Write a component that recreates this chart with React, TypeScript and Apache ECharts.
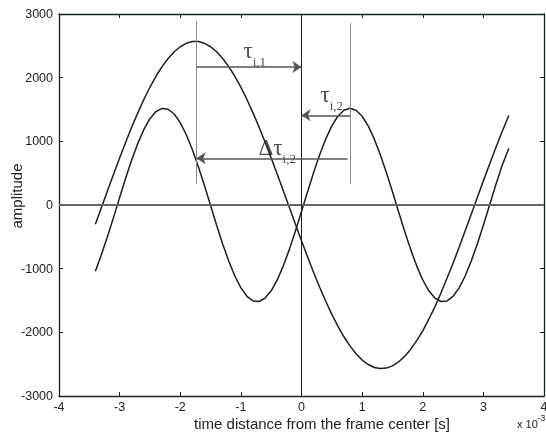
import React, { useEffect, useRef } from "react";
import * as echarts from "echarts";

// time axis values (x 10^-3 s)
const xs = [
  -3.4, -3.3, -3.2, -3.1, -3.0, -2.9, -2.8, -2.7, -2.6, -2.5, -2.4, -2.3, -2.2, -2.1, -2.0, -1.9, -1.8, -1.7,
  -1.6, -1.5, -1.4, -1.3, -1.2, -1.1, -1.0, -0.9, -0.8, -0.7, -0.6, -0.5, -0.4, -0.3, -0.2, -0.1, 0,
  0.1, 0.2, 0.3, 0.4, 0.5, 0.6, 0.7, 0.8, 0.9, 1.0, 1.1, 1.2, 1.3, 1.4, 1.5, 1.6, 1.7, 1.8, 1.9, 2.0,
  2.1, 2.2, 2.3, 2.4, 2.5, 2.6, 2.7, 2.8, 2.9, 3.0, 3.1, 3.2, 3.3, 3.42,
];
// large, slow wave
const curveA = [
  -302, -39, 223, 484, 739, 987, 1224, 1447, 1658, 1850, 2022, 2174, 2302, 2407, 2486, 2540, 2567, 2567,
  2540, 2486, 2407, 2302, 2174, 2022, 1850, 1658, 1447, 1224, 987, 739, 484, 223, -39, -302, -561,
  -814, -1059, -1292, -1512, -1717, -1901, -2070, -2213, -2336, -2436, -2505, -2552, -2569, -2562, -2527, -2465, -2378, -2268, -2131, -1977,
  -1794, -1601, -1382, -1150, -914, -664, -406, -145, 118, 379, 637, 888, 1130, 1405,
];
// smaller, fast wave
const curveB = [
  -1040, -778, -496, -194, 117, 423, 710, 968, 1187, 1355, 1467, 1517, 1504, 1429, 1294, 1104, 869, 598,
  301, -8, -317, -611, -881, -1115, -1302, -1434, -1507, -1516, -1462, -1348, -1177, -956, -697, -407, -101,
  209, 510, 790, 1038, 1242, 1394, 1488, 1520, 1488, 1394, 1242, 1038, 790, 510, 209, -101, -407, -697, -956, -1177,
  -1348, -1462, -1516, -1507, -1434, -1302, -1115, -881, -611, -317, -8, 301, 598, 890,
];

const xRange = [-4, 4];
const yRange = [-3000, 3000];
const xStep = 1;
const yStep = 1000;

// annotation geometry (data coordinates)
const guideLeft = [[-1.73, 2890], [-1.73, 330]];
const guideRight = [[0.81, 2858], [0.81, 330]];
const arrowTau1 = [[-1.73, 2167], [0, 2167]];
const arrowTau2 = [[0.8, 1409], [0, 1409]];
const arrowDelta = [[0.76, 733], [-1.73, 733]];
const labelPoints = [[-0.77, 2372], [0.5, 1690], [-0.4, 860]];
const labelTexts = ["{t|τ}{s|i,1}", "{t|τ}{s|i,2}", "{t|Δτ}{s|i,2}"];

const xTitle = "time distance from the frame center [s]";
const yTitle = "amplitude";
const xScaleNote = "{a|x 10}{b|-3}";

const ink = "#142222";
const sans = "'Liberation Sans', Arial, sans-serif";
const serif = "'Liberation Serif', 'Times New Roman', serif";

export default function App() {
  const ref = useRef<HTMLDivElement>(null);
  useEffect(() => {
    if (!ref.current) return;
    const chart = echarts.init(ref.current, null, { renderer: "svg" });
    const pair = (p: number[][]) => [{ coord: p[0] }, { coord: p[1] }];
    const guideStyle = { color: "#8a8a8a", width: 1, type: "solid" as const };
    const axisCommon = {
      type: "value" as const,
      splitLine: { show: false },
      axisLine: { show: true, onZero: false, lineStyle: { color: ink, width: 1.3 } },
      axisTick: { show: true, inside: true, length: 4, lineStyle: { color: ink, width: 1 } },
    };
    const plain = (v: number) => String(v);
    chart.setOption({
      animation: false,
      grid: { left: 59, right: 2, top: 14, bottom: 39, outerBoundsMode: "none" },
      xAxis: [
        {
          ...axisCommon,
          position: "bottom",
          min: xRange[0],
          max: xRange[1],
          interval: xStep,
          axisLabel: { margin: 4, fontSize: 12.5, color: "#222", fontFamily: sans, formatter: plain, showMaxLabel: true, showMinLabel: true },
        },
        {
          ...axisCommon,
          position: "top",
          min: xRange[0],
          max: xRange[1],
          interval: xStep,
          axisLabel: { show: false },
        },
      ],
      yAxis: [
        {
          ...axisCommon,
          position: "left",
          min: yRange[0],
          max: yRange[1],
          interval: yStep,
          axisLabel: { margin: 6, fontSize: 12.5, color: "#222", fontFamily: sans, formatter: plain },
        },
        {
          ...axisCommon,
          position: "right",
          min: yRange[0],
          max: yRange[1],
          interval: yStep,
          axisLabel: { show: false },
        },
      ],
      series: [
        {
          type: "line",
          data: xs.map((x, i) => [x, curveA[i]]),
          showSymbol: false,
          lineStyle: { color: ink, width: 1.5 },
          silent: true,
          z: 3,
          markLine: {
            silent: true,
            symbol: ["none", "none"],
            label: { show: false },
            lineStyle: { type: "solid" },
            data: [
              [{ coord: [xRange[0], 0], lineStyle: { color: "#666", width: 2, type: "solid" } }, { coord: [xRange[1], 0] }],
              [{ coord: [0, yRange[0]], lineStyle: { color: ink, width: 1, type: "solid" } }, { coord: [0, yRange[1]] }],
              [{ coord: guideLeft[0], lineStyle: guideStyle }, { coord: guideLeft[1] }],
              [{ coord: guideRight[0], lineStyle: guideStyle }, { coord: guideRight[1] }],
            ],
          },
        },
        {
          type: "line",
          data: xs.map((x, i) => [x, curveB[i]]),
          showSymbol: false,
          lineStyle: { color: ink, width: 1.5 },
          silent: true,
          z: 3,
          markLine: {
            silent: true,
            symbol: ["none", "arrow"],
            symbolSize: 9,
            label: { show: false },
            lineStyle: { color: "#555", width: 1.5, type: "solid" },
            itemStyle: { color: "#222" },
            data: [pair(arrowTau1), pair(arrowTau2), pair(arrowDelta)],
          },
        },
        {
          type: "scatter",
          symbolSize: 0,
          silent: true,
          data: labelPoints.map((p, i) => ({
            value: p,
            label: {
              show: true,
              position: "inside",
              formatter: labelTexts[i],
              rich: {
                t: { fontSize: 23, fontFamily: serif, color: "#222", padding: [0, 0, 6, 0], verticalAlign: "bottom" },
                s: { fontSize: 13, fontFamily: serif, color: "#222", verticalAlign: "bottom" },
              },
            },
          })),
        },
      ],
      graphic: [
        {
          type: "text",
          x: 16,
          y: 196,
          rotation: Math.PI / 2,
          style: { text: yTitle, fontSize: 15, fontFamily: sans, fill: "#222", align: "center", verticalAlign: "middle" },
        },
        {
          type: "text",
          x: 322,
          y: 423,
          style: { text: xTitle, fontSize: 15, fontFamily: sans, fill: "#222", align: "center", verticalAlign: "middle" },
        },
        {
          type: "text",
          x: 517,
          y: 421,
          style: {
            text: xScaleNote,
            align: "left",
            verticalAlign: "middle",
            rich: {
              a: { fontSize: 11, fontFamily: sans, fill: "#222", verticalAlign: "bottom" },
              b: { fontSize: 8.5, fontFamily: sans, fill: "#222", padding: [0, 0, 7, 0], verticalAlign: "bottom" },
            },
          },
        },
      ],
    });
    return () => chart.dispose();
  }, []);
  return <div ref={ref} style={{ position: "fixed", left: 0, top: 0, width: 546, height: 435 }} />;
}
